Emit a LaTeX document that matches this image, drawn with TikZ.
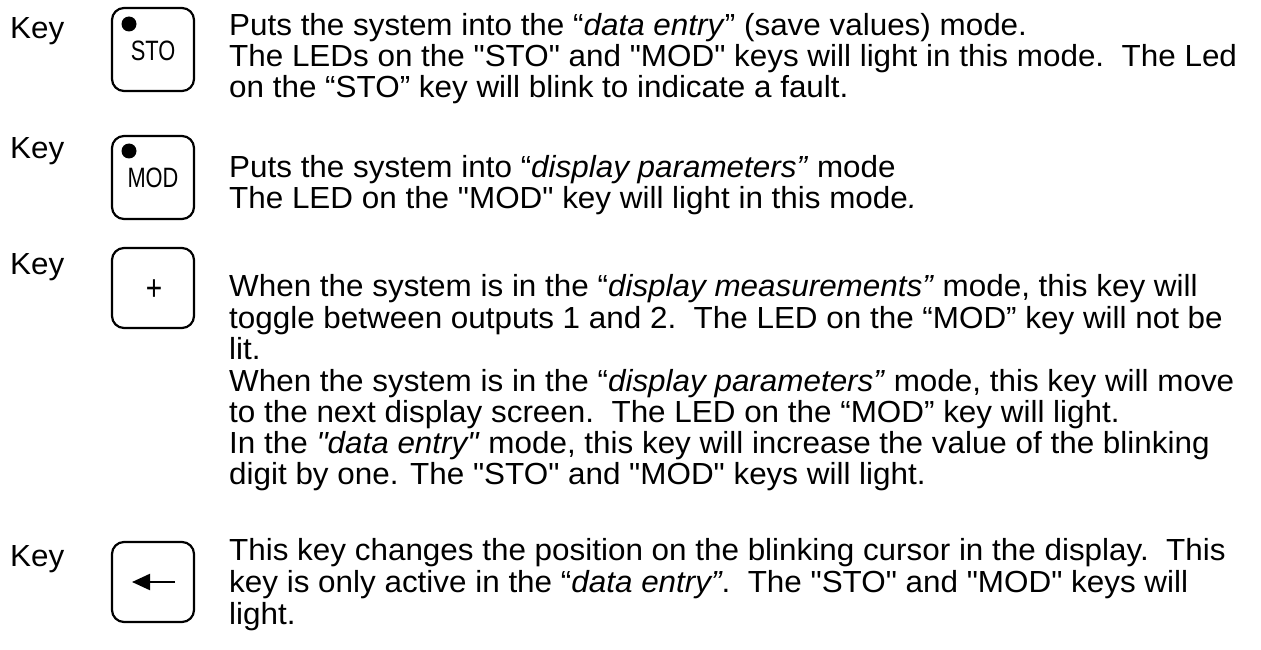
\documentclass[tikz,border=0pt]{standalone}
\usepackage{fontspec}
\setmainfont{Liberation Sans}[FakeStretch=1.03,Ligatures=TeXOff]
\newfontfamily\keyfont{Liberation Sans}[FakeStretch=0.78]
\usetikzlibrary{arrows.meta}
\begin{document}
\begin{tikzpicture}[x=1pt,y=-1pt,
  txt/.style={anchor=base west, inner sep=0, font=\fontsize{30.5}{33}\selectfont},
  keybox/.style={draw, line width=2.2pt, rounded corners=12pt, minimum width=82pt, inner sep=0},
  keylbl/.style={anchor=base, inner sep=0, font=\keyfont\fontsize{28}{28}\selectfont},
  led/.style={fill, circle, minimum size=15pt, inner sep=0},
  arr/.style={line width=2.2pt, -{Triangle[length=18pt,width=16pt]}}]
\useasboundingbox (0,0) rectangle (1261,650);
% keys
\node[keybox, minimum height=83pt] (k1) at (153,49.5) {};
\node[keybox, minimum height=83pt] (k2) at (153,177.5) {};
\node[keybox, minimum height=80pt] (k3) at (153,288) {};
\node[keybox, minimum height=80pt] (k4) at (153,582) {};
\node[led] (d1) at (129,24) {};
\node[led] (d2) at (129,151) {};
\node[keylbl] (l1) at (153,61) {STO};
\node[keylbl] (l2) at (153,187) {MOD};
\node[anchor=center, inner sep=0, font=\keyfont\fontsize{36}{36}\selectfont] (l3) at (154,290) {+};
\coordinate (a1) at (175,582);
\coordinate (a2) at (132,582);
\draw[arr] (a1) -- (a2);
% Key words
\node[txt] (key1) at (10,39) {Key};
\node[txt] (key2) at (10,158) {Key};
\node[txt] (key3) at (10,274) {Key};
\node[txt] (key4) at (10,566) {Key};
% block 1
\node[txt] (t11) at (229,36) {Puts the system into the “\textit{data entry}” (save values) mode.};
\node[txt] (t12) at (229,67) {The LEDs on the "STO" and "MOD" keys will light in this mode.\ \ The Led};
\node[txt] (t13) at (229,98) {on the “STO” key will blink to indicate a fault.};
% block 2
\node[txt] (t21) at (229,177) {Puts the system into “\textit{display parameters”} mode};
\node[txt] (t22) at (229,208) {The LED on the "MOD" key will light in this mode\textit{.}};
% block 3
\node[txt] (t31) at (229,296) {When the system is in the “\textit{display measurements”} mode, this key will};
\node[txt] (t32) at (229,328) {toggle between outputs 1 and 2.\ \ The LED on the “MOD” key will not be};
\node[txt] (t33) at (229,359) {lit.};
\node[txt] (t34) at (229,391) {When the system is in the “\textit{display parameters”} mode, this key will move};
\node[txt] (t35) at (229,422) {to the next display screen.\ \ The LED on the “MOD” key will light.};
\node[txt] (t36) at (229,453) {In the \textit{"data entry"} mode, this key will increase the value of the blinking};
\node[txt] (t37) at (229,484) {digit by one. The "STO" and "MOD" keys will light.};
% block 4
\node[txt] (t41) at (229,560) {This key changes the position on the blinking cursor in the display.\ \ This};
\node[txt] (t42) at (229,592) {key is only active in the “\textit{data entry”}.\ \ The "STO" and "MOD" keys will};
\node[txt] (t43) at (229,624) {light.};
\end{tikzpicture}
\end{document}
